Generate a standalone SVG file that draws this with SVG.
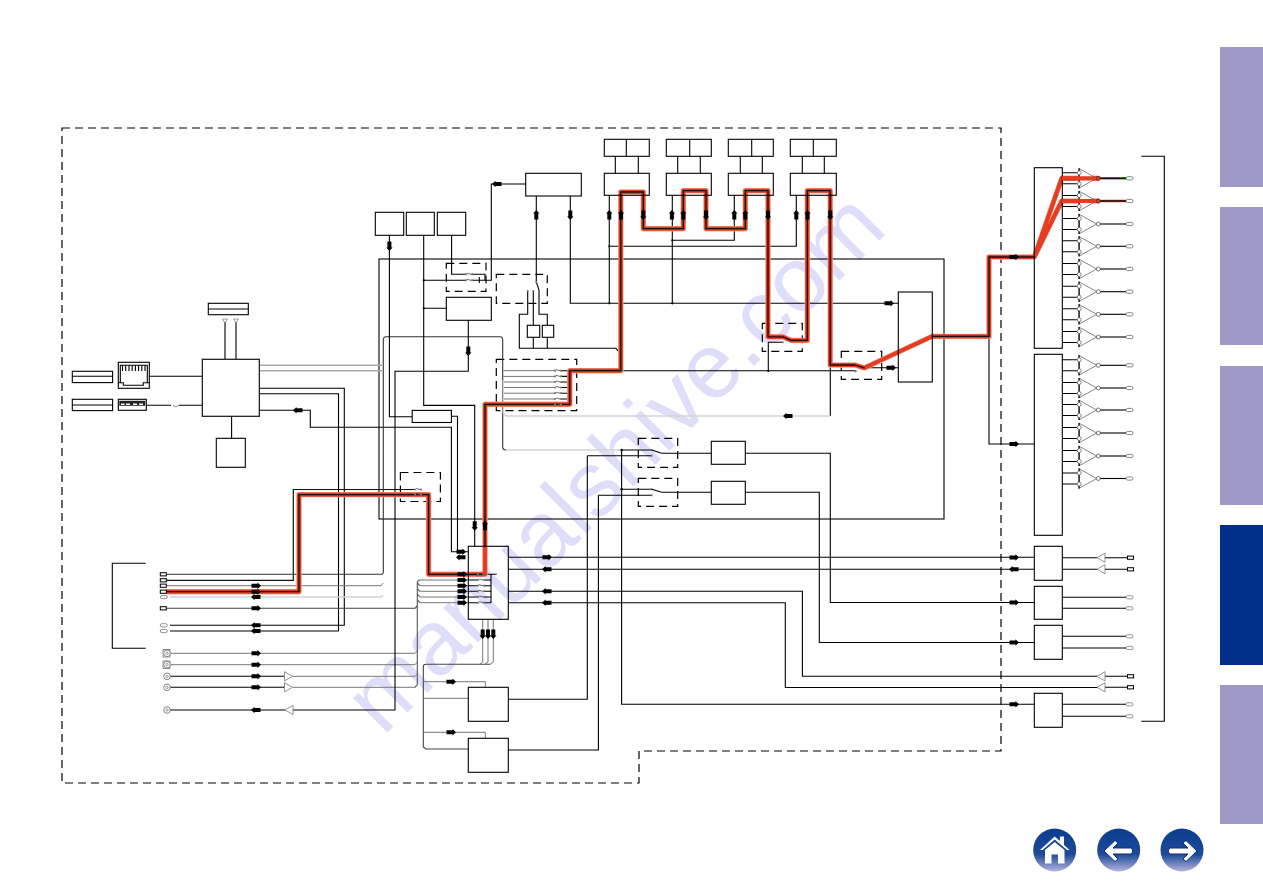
<svg xmlns="http://www.w3.org/2000/svg" width="1263" height="893" viewBox="0 0 1263 893">
<style>
text{font-family:"Liberation Sans",Arial,sans-serif}
.wm{font-size:92px;fill:#dedefb}
.k{fill:none;stroke:#000;stroke-width:1.1}
.b{fill:none;stroke:#111;stroke-width:1.2}
.g{fill:none;stroke:#777;stroke-width:1}
.p{fill:none;stroke:#d4d4d4;stroke-width:1.4}
.d{fill:none;stroke:#000;stroke-width:1.2;stroke-dasharray:8 5}
.halo{fill:none;stroke:#f4a899;stroke-width:5.4;stroke-linejoin:round}
.red{fill:none;stroke:#e43d22;stroke-width:4.2;stroke-linejoin:round}
.core{fill:none;stroke:#111;stroke-width:1.3;stroke-linejoin:round}
.thin{fill:none;stroke:#e43d22;stroke-width:2.6}
.tab{fill:#9d98c6}
.tabon{fill:#003087}
.btn{fill:url(#btn)}
.ico{fill:#fff}
</style>
<defs>
<linearGradient id="btn" x1="0" y1="0" x2="0" y2="1">
<stop offset="0" stop-color="#0b3d8f"/><stop offset=".6" stop-color="#1c4a98"/><stop offset="1" stop-color="#b4b4dc"/>
</linearGradient>
<path id="ar" d="M-4.5-2H1.5V-3.2L5 0 1.5 3.2V2H-4.5Z" fill="#000"/>
<g id="amp">
<path d="M0,-5.5H17M0,5.5H17" class="k"/>
<path d="M16.7,-10V10L34.7,0Z" fill="#fff" stroke="#666" stroke-width=".8"/>
<path d="M17.2,-10V10" class="k"/>
<circle cx="17.2" cy="-5.5" r="2" fill="#fff" stroke="#666" stroke-width=".8"/>
<circle cx="17.2" cy="5.5" r="2" fill="#fff" stroke="#666" stroke-width=".8"/>
<circle cx="36.3" cy="0" r="2" fill="#fff" stroke="#555" stroke-width=".8"/>
<path d="M38.3,0H64" class="k"/>
<rect x="64" y="-1.6" width="7" height="3.2" rx="1.6" fill="#fff" stroke="#666" stroke-width=".8"/>
</g>
<path id="ct" d="M1,-1 5,0" stroke="#444" stroke-width=".8"/>
<g id="contact"><circle r="1.1" fill="#777"/><circle cx="6" r="1.1" fill="#777"/><use href="#ct"/></g>
<rect id="cr" x="0" y="-1.6" width="6" height="3.2" fill="#fff" stroke="#000" stroke-width="1"/>
<rect id="cap" x="0" y="-1.6" width="7" height="3.2" rx="1.6" fill="#fff" stroke="#777" stroke-width=".8"/>
<g id="jack"><circle r="3.3" fill="#fff" stroke="#777" stroke-width=".9"/><circle r="1.2" fill="none" stroke="#777" stroke-width=".7"/></g>
<path id="tri-r" d="M0,-4.6V4.6L8,0Z" fill="#fff" stroke="#777" stroke-width=".8"/>
<path id="tri-l" d="M8,-4.6V4.6L0,0Z" fill="#fff" stroke="#777" stroke-width=".8"/>
<path id="wire" d="M166,591.7H299V494.6H428.6V574.3H485M485,546V404.3H569.8V370.7H620.8V192H643.3V228.7H683.3V190.7H706V228.7H745.3V190.7H768V336.8H783L791,340.4H807.3V190.7H830.2V365H855L864.5,367.9M932,336.4H989V257H1034.3"/>
<path id="sig" d="M166,591.7H299V494.6H428.6V574.3H485V404.3H569.8V370.7H620.8V192H643.3V228.7H683.3V190.7H706V228.7H745.3V190.7H768V336.8H783L791,340.4H807.3V190.7H830.2V365H855L864.5,367.9 932,336.4H989V257H1034.3L1061.7,178.3H1098M1034.3,257 1061.7,201H1098"/>
</defs>

<rect width="1263" height="893" fill="#fff"/>
<text class="wm" transform="translate(383,737) rotate(-45)">manualshive.com</text>

<g id="side-tabs">
<rect class="tab" x="1220" y="47" width="43" height="140"/>
<rect class="tab" x="1220" y="207" width="43" height="138"/>
<rect class="tab" x="1220" y="366" width="43" height="139"/>
<rect class="tabon" x="1220" y="525" width="43" height="140"/>
<rect class="tab" x="1220" y="685" width="43" height="139"/>
</g>

<g id="nav-buttons">
<g id="nav-home"><circle class="btn" cx="1054.7" cy="850" r="21.5"/>
<path class="ico" d="M1040,850 1054.7,836.5 1060,841V836.5H1064V845L1069.5,850 1067,850 1054.7,839.5 1042.5,850Z"/>
<path class="ico" d="M1045,850 1054.7,842 1064.5,850V863.5H1058V854.5H1051.5V863.5H1045Z"/></g>
<g id="nav-back"><circle class="btn" cx="1118.7" cy="850" r="21.5"/>
<path class="ico" stroke="#0b2f80" stroke-width="1" d="M1104,851 1115,840.5 1118,843 1113,848H1131.5Q1134,851 1131.5,854H1113L1118,859 1115,861.5Z"/></g>
<g id="nav-next"><circle class="btn" cx="1182" cy="850" r="21.5"/>
<path class="ico" stroke="#0b2f80" stroke-width="1" d="M1197,851 1186,840.5 1183,843 1188,848H1169.5Q1167,851 1169.5,854H1188L1183,859 1186,861.5Z"/></g>
</g>

<g id="boundaries">
<path class="d" d="M62,128H1001V751H639V783H62Z"/>
<rect class="k" x="379" y="259" width="565" height="260"/>
<rect class="d" x="446.3" y="263.3" width="39.7" height="28"/>
<rect class="d" x="496.3" y="274.3" width="51" height="29"/>
<rect class="d" x="496.3" y="359.3" width="80.4" height="51.4"/>
<rect class="d" x="762.3" y="323.3" width="40" height="28"/>
<rect class="d" x="841.3" y="351.3" width="40.4" height="28"/>
<rect class="d" x="638.3" y="438.3" width="39.4" height="29"/>
<rect class="d" x="638.3" y="478.3" width="39.4" height="28"/>
<rect class="d" x="400.4" y="472.5" width="40" height="29"/>
<path class="k" d="M145.7,563.3H112.3V648.3H145.7"/>
<path class="k" d="M1141.3,156.3H1164.3V721.3H1141.3"/>
</g>

<g id="connectors">
<!-- network block -->
<path class="k" d="M225,321V359M236,321V359M149.3,376.3H202.3M146.3,405.3H171M179,405.3H202.3M231.6,416.3V438.3"/>
<path d="M173,405C175,407 177,407 179,405" class="g"/>
<path class="p" d="M259.3,365.3H382M259.3,370.7H382" style="stroke:#aaa"/>
<path class="k" d="M259.3,388.3H344.3V625.3H170M259.3,393.7H338.5V631H170"/>
<path class="k" d="M259.3,410.3H310.3V427.3H451.4V551.8H468.3"/>
<!-- rear panel inputs -->
<path class="b" d="M166,580.3H293.3V489.5H415"/>
<path class="k" style="stroke:#333" d="M166,574.3H382Q383.3,574 383.3,572V340Q383.3,336.7 386,336.7H500Q502.7,336.7 502.7,340V447Q502.7,450 506,450"/>
<path class="g" d="M166,585.7H381L383.3,583"/>
<path class="p" d="M170,597H381L383.3,595M506,450H621"/>
<path class="k" style="stroke:#444" d="M166,608.3H415L417.3,606"/>
<path class="k" style="stroke:#555" d="M420,580Q417.3,580 417.3,583V684.5L415,687.3M417.3,583L420,585.7M417.3,589L420,591.3M417.3,594L420,597M417.3,600L420,602.7"/>
<path class="g" d="M170,653.3H415L417.3,651M170,664.7H415L417.3,662"/>
<path class="k" d="M170,676.3H285M170,687.3H285"/>
<path class="g" d="M293,676.3H415L417.3,674M293,687.3H415"/>
<path class="k" d="M170,710H285M293,710H395V371.3H468.3V320.3"/>
<!-- front-end selector rows -->
<path class="g" d="M420,580H468M420,585.7H468M420,591.3H468M420,597H468M420,602.7H468"/>
<path class="k" d="M468,580H478M468,585.7H478M468,591.3H478M468,597H478M468,602.7H478M484,574.3H496.7M484,580H491M484,585.7H491M484,591.3H491M484,597H491M484,602.7H491M491,574.3V602.7"/>
<!-- upper switch and selector wiring -->
<path class="k" d="M389.4,235.3V416.8H412.2M451.4,416.3H457.5V551.8M423.7,235.3V405.4H474.7V546.3"/>
<path class="k" d="M423.7,280.3H466M472,280.3H491.3V184H525.7M423.7,308.3H446.3"/>
<path class="k" d="M451.6,235.3V274.3H466M472,274.3H485V280.3M479.3,277V283"/>
<path class="k" d="M536.3,196V282L539,290V314.3H547.3V325.3M527.7,291V314.3H519.3V348.3H615.7L621,354M533.3,291V325.3M533.3,337.3V348.3M547.3,337.3V348.3"/>
<path class="k" d="M570.3,196V303.3H898.3M609.3,195.3V303.3M609.3,246.3H796.3V195.3M672.3,195.3V303.3M672.3,240.3H734.3V195.3"/>
<path class="k" d="M615.3,156.3V173.3M638.3,156.3V173.3M677.7,156.3V173.3M700.3,156.3V173.3M740.3,156.3V173.3M762.3,156.3V173.3M802.3,156.3V173.3M824.3,156.3V173.3"/>
<!-- tape of inputs into the selector -->
<path class="g" d="M503.3,370.7H555M503.3,376.4H555M503.3,382H555M503.3,387.5H555M503.3,393.2H555M503.3,399H555"/>
<path class="k" d="M561,370.7H569.8M561,376.4H569.8M561,382H569.8M561,387.5H569.8M561,393.2H569.8M561,399H569.8M569.8,370.7V404.3"/>
<path class="k" d="M620.8,370.7H855.7M768.3,371V342.3H782.7M864.5,367.7H898.3M830.3,365V416"/>
<path class="p" d="M830.3,416H506L503.3,413V380"/>
<!-- output switches -->
<path class="k" d="M621.6,450H651.7M621.6,450V704.3H1034.3M621.6,489.3H651.7M587.3,455.7H651.7M598.4,495.3H651.7"/>
<path class="k" d="M661.7,453.3H711.3M661.7,492.3H711.3M745.3,453.3H830.3V602.5H1034.3M745.3,492.3H819.3V642.5H1034.3"/>
<path class="k" d="M508.3,699.3H587.3V455.7M508.3,750H598.4V495.3"/>
<path class="k" d="M508.3,557.3H1034.3M508.3,569.3H1034.3M508.3,591.3H802.4V676.3H1097M508.3,602.7H785.3V687.5H1097"/>
<!-- selector return bus -->
<path class="g" d="M482.7,619.3V662L480,664.3M488,619.3V662L485,664.3M493.3,619.3V662L490,664.3"/>
<path class="k" style="stroke:#444" d="M490,664.3H426Q423.3,664.3 423.3,667V747L426,749H468.3"/>
<path class="g" d="M423.3,681.7H485.3V687.3M423.3,698.3H468.3M423.3,732.3H485.3V738.3"/>
<!-- main output -->
<path class="k" d="M989,337V444H1034.3"/>
<path class="k" d="M1062.3,557.7H1097M1105,557.7H1127M1062.3,569.3H1097M1105,569.3H1127M1062.3,597.3H1127M1062.3,608.3H1127M1062.3,636.3H1127M1062.3,648H1127M1105,676.3H1127M1105,687.3H1127M1062.3,704.3H1127M1062.3,716.3H1127"/>

<!-- highlighted signal route -->
<use href="#sig" class="halo"/>
<use href="#sig" class="red"/>
<use href="#wire" class="core"/>

<!-- flow arrows -->
<g id="flow-arrows">
<use href="#ar" transform="translate(298,410.3) rotate(180)"/>
<use href="#ar" x="256" y="585.7"/><use href="#ar" x="256" y="591.7"/>
<use href="#ar" transform="translate(256,597) rotate(180)"/>
<use href="#ar" x="256" y="608.3"/>
<use href="#ar" transform="translate(256,625.3) rotate(180)"/>
<use href="#ar" transform="translate(256,631) rotate(180)"/>
<use href="#ar" x="256" y="653.3"/><use href="#ar" x="256" y="664.7"/><use href="#ar" x="256" y="676.3"/><use href="#ar" x="256" y="687.3"/>
<use href="#ar" transform="translate(256,710) rotate(180)"/>
<use href="#ar" x="461" y="551.8"/>
<use href="#ar" transform="translate(461,557.3) rotate(180)"/>
<use href="#ar" x="462" y="574.3"/><use href="#ar" x="462" y="580"/><use href="#ar" x="462" y="585.7"/><use href="#ar" x="462" y="591.3"/><use href="#ar" x="462" y="597"/><use href="#ar" x="462" y="602.7"/>
<use href="#ar" x="547" y="557.3"/>
<use href="#ar" transform="translate(547,569.3) rotate(180)"/>
<use href="#ar" transform="translate(547,591.3) rotate(180)"/>
<use href="#ar" transform="translate(547,602.7) rotate(180)"/>
<use href="#ar" transform="translate(482.7,634) rotate(90)"/><use href="#ar" transform="translate(488,634) rotate(90)"/><use href="#ar" transform="translate(493.3,634) rotate(90)"/>
<use href="#ar" x="451" y="681.7"/><use href="#ar" x="451" y="732.3"/>
<use href="#ar" transform="translate(474.7,525.7) rotate(90)"/>
<use href="#ar" transform="translate(485,525.7) rotate(-90)"/>
<use href="#ar" transform="translate(389.4,246) rotate(90)"/>
<use href="#ar" transform="translate(468.3,351) rotate(90)"/>
<use href="#ar" transform="translate(497,184) rotate(180)"/>
<use href="#ar" transform="translate(536.3,215) rotate(-90)"/>
<use href="#ar" transform="translate(570.3,215) rotate(90)"/>
<use href="#ar" transform="translate(609.3,215) rotate(-90)"/><use href="#ar" transform="translate(621,215) rotate(-90)"/>
<use href="#ar" transform="translate(643.3,215) rotate(90)"/>
<use href="#ar" transform="translate(671.9,215) rotate(-90)"/><use href="#ar" transform="translate(683.3,215) rotate(-90)"/>
<use href="#ar" transform="translate(706,215) rotate(90)"/>
<use href="#ar" transform="translate(734.3,215) rotate(-90)"/><use href="#ar" transform="translate(745.3,215) rotate(-90)"/>
<use href="#ar" transform="translate(768,215) rotate(90)"/>
<use href="#ar" transform="translate(796.3,215) rotate(-90)"/><use href="#ar" transform="translate(807.5,215) rotate(-90)"/>
<use href="#ar" transform="translate(830.3,215) rotate(90)"/>
<use href="#ar" x="889" y="303.3"/><use href="#ar" x="891" y="367.7"/>
<use href="#ar" transform="translate(788,416) rotate(180)"/>
<use href="#ar" x="1014" y="257"/><use href="#ar" x="1014" y="444"/><use href="#ar" x="1014" y="557.5"/>
<use href="#ar" transform="translate(1014,569.3) rotate(180)"/>
<use href="#ar" x="1014" y="602.5"/><use href="#ar" x="1014" y="642.5"/><use href="#ar" x="1014" y="704.3"/>
</g>
</g>

<g id="contacts">
<use href="#contact" x="555" y="370.7"/><use href="#contact" x="555" y="376.4"/><use href="#contact" x="555" y="382"/><use href="#contact" x="555" y="387.5"/><use href="#contact" x="555" y="393.2"/><use href="#contact" x="555" y="399"/><use href="#contact" x="555" y="404.6"/>
<use href="#contact" x="466" y="274.3"/><use href="#contact" x="466" y="280.3"/>
<use href="#contact" x="415" y="489.5"/><use href="#contact" x="415" y="494.6"/>
<use href="#contact" x="478" y="574.3"/><use href="#contact" x="478" y="580"/><use href="#contact" x="478" y="585.7"/><use href="#contact" x="478" y="591.3"/><use href="#contact" x="478" y="597"/><use href="#contact" x="478" y="602.7"/>
<circle cx="527.7" cy="291" r="1.1" fill="#777"/><circle cx="533.3" cy="291" r="1.1" fill="#777"/><circle cx="536.3" cy="282" r="1.1" fill="#777"/>
<circle cx="651.7" cy="450" r="1.1" fill="#777"/><circle cx="651.7" cy="455.7" r="1.1" fill="#777"/><path class="k" d="M651.7,450 661.7,453.3"/>
<circle cx="651.7" cy="489.3" r="1.1" fill="#777"/><circle cx="651.7" cy="495.3" r="1.1" fill="#777"/><path class="k" d="M651.7,489.3 661.7,492.3"/>
<circle cx="782.7" cy="342.3" r="1.1" fill="#777"/><circle cx="855.7" cy="371.3" r="1.1" fill="#777"/>
<circle cx="423.7" cy="280.3" r="1.1" fill="#000"/><circle cx="423.7" cy="308.3" r="1.1" fill="#000"/><circle cx="609.3" cy="246.3" r="1.1" fill="#000"/><circle cx="672.3" cy="240.3" r="1.1" fill="#000"/><circle cx="609.3" cy="303.3" r="1.1" fill="#000"/><circle cx="672.3" cy="303.3" r="1.1" fill="#000"/><circle cx="621.6" cy="450" r="1.2" fill="#000"/><circle cx="621.6" cy="489.3" r="1.2" fill="#000"/><circle cx="768.3" cy="371" r="1.1" fill="#000"/>
</g>

<g id="node-antenna"><rect class="k" x="208.3" y="303.3" width="40" height="11.4"/><path class="k" d="M208.3,309H248.3"/><path d="M222.5,319H227.5L225,323ZM233.5,319H238.5L236,323Z" fill="#fff" stroke="#777" stroke-width=".7"/></g>
<g id="node-label-lan"><rect class="k" x="72.3" y="371.3" width="40.3" height="11.3"/><path class="k" d="M72.3,376.3H112.6"/></g>
<g id="node-label-usb"><rect class="k" x="72.3" y="399.3" width="40.3" height="11.3"/><path class="k" d="M72.3,405H112.6"/></g>
<g id="node-rj45"><rect class="k" x="118.3" y="362.3" width="31" height="26"/>
<path class="k" d="M120.3,382.7V365.3H147.3V382.7H143.3V385.3H123.3V382.7ZM118.3,382.7H120.3M147.3,382.7H149.3"/>
<path class="k" d="M122.5,365.3V371M125.7,365.3V371M129,365.3V371M132.2,365.3V371M135.4,365.3V371M138.6,365.3V371M141.8,365.3V371M145,365.3V371"/></g>
<g id="node-usb"><rect class="k" x="118.3" y="399.3" width="28" height="11"/><rect x="119.3" y="400.8" width="26" height="5" fill="#222"/><path d="M121,403.6h3.5v1.4h-3.5zM126,403.6h4v1.4h-4zM133,403.6h4v1.4h-4zM139,403.6h4v1.4h-4z" fill="#fff"/></g>
<g id="node-network"><rect class="b" x="202.3" y="359.3" width="57" height="57"/></g>
<g id="node-flash"><rect class="k" x="216.3" y="438.3" width="29" height="29"/></g>
<g id="node-r1"><rect class="k" x="375.3" y="212.3" width="28.4" height="23"/></g>
<g id="node-r2"><rect class="k" x="406.3" y="212.3" width="28" height="23"/></g>
<g id="node-r3"><rect class="k" x="437.3" y="212.3" width="28.4" height="23"/></g>
<g id="node-logic"><rect class="k" x="446.3" y="297.3" width="45" height="23"/></g>
<g id="node-sub-a"><rect class="k" x="527.3" y="325.3" width="12.4" height="12"/></g>
<g id="node-sub-b"><rect class="k" x="542.3" y="325.3" width="11.4" height="12"/></g>
<g id="node-pll"><rect class="k" x="412.2" y="410.4" width="39.2" height="12.1"/></g>
<g id="node-clock"><rect class="k" x="525.7" y="173.3" width="55.6" height="22.7"/></g>
<g id="node-dsp-1"><rect class="k" x="604.3" y="139.3" width="45" height="17"/><path class="k" d="M626.3,139.3V156.3"/><rect class="k" x="604.3" y="173.3" width="45" height="22"/></g>
<g id="node-dsp-2"><rect class="k" x="666.3" y="139.3" width="45" height="17"/><path class="k" d="M689.7,139.3V156.3"/><rect class="k" x="666.3" y="173.3" width="45" height="22"/></g>
<g id="node-dsp-3"><rect class="k" x="728.3" y="139.3" width="45" height="17"/><path class="k" d="M751.7,139.3V156.3"/><rect class="k" x="728.3" y="173.3" width="45" height="22"/></g>
<g id="node-dsp-4"><rect class="k" x="790.3" y="139.3" width="46" height="17"/><path class="k" d="M813.3,139.3V156.3"/><rect class="k" x="790.3" y="173.3" width="46" height="22"/></g>
<g id="node-dac-out"><rect class="k" x="898.3" y="292" width="34" height="90"/></g>
<g id="node-select"><rect class="k" x="468.3" y="546.3" width="40" height="73"/></g>
<g id="node-adc-1"><rect class="k" x="468.3" y="687.3" width="40" height="34"/></g>
<g id="node-adc-2"><rect class="k" x="468.3" y="738.3" width="40" height="34"/></g>
<g id="node-mux-1"><rect class="k" x="711.3" y="441.3" width="34" height="23"/></g>
<g id="node-mux-2"><rect class="k" x="711.3" y="481.3" width="34" height="23"/></g>
<g id="node-amp-block-1"><rect class="k" x="1034.3" y="167.7" width="28" height="180.6"/></g>
<g id="node-amp-block-2"><rect class="k" x="1034.3" y="354.3" width="28" height="181"/></g>
<g id="node-io-1"><rect class="k" x="1034.3" y="546.3" width="28" height="34"/></g>
<g id="node-io-2"><rect class="k" x="1034.3" y="586.3" width="28" height="33"/></g>
<g id="node-io-3"><rect class="k" x="1034.3" y="625.3" width="28" height="34"/></g>
<g id="node-io-4"><rect class="k" x="1034.3" y="693.3" width="28" height="34"/></g>

<g id="amplifiers" transform="translate(1062,0)">
<use href="#amp" y="178.3"/><use href="#amp" y="201"/><use href="#amp" y="224"/><use href="#amp" y="246.3"/><use href="#amp" y="269"/><use href="#amp" y="291.7"/><use href="#amp" y="314.3"/><use href="#amp" y="337"/>
<use href="#amp" y="365.3"/><use href="#amp" y="388"/><use href="#amp" y="410"/><use href="#amp" y="433"/><use href="#amp" y="456"/><use href="#amp" y="478.5"/>
</g>
<path class="red" d="M1062,178.3H1098M1062,201H1098"/>
<path class="thin" d="M1100,178.3H1126M1100,201H1126"/>
<path class="core" d="M1100,178.3H1126M1100,201H1126"/>
<circle cx="1098.3" cy="178.3" r="2" fill="#e43d22" stroke="#333" stroke-width=".7"/>
<circle cx="1098.3" cy="201" r="2" fill="#e43d22" stroke="#333" stroke-width=".7"/>

<g id="terminals">
<use href="#cr" x="160.3" y="574.3"/><use href="#cr" x="160.3" y="580.3"/><use href="#cr" x="160.3" y="585.7"/><use href="#cr" x="160.3" y="591.7"/>
<use href="#cap" x="160.3" y="597"/><use href="#cr" x="160.3" y="608.3"/><use href="#cap" x="160.3" y="625.3"/><use href="#cap" x="160.3" y="631"/>
<rect x="163" y="649.5" width="7" height="7.5" fill="#fff" stroke="#777" stroke-width=".8"/><use href="#jack" x="167" y="653.3"/>
<rect x="163" y="661" width="7" height="7.5" fill="#fff" stroke="#777" stroke-width=".8"/><use href="#jack" x="167" y="664.7"/>
<use href="#jack" x="167" y="676.3"/><use href="#jack" x="167" y="687.3"/><use href="#jack" x="167" y="710"/>
<use href="#tri-r" x="284.5" y="676.3"/><use href="#tri-r" x="284.5" y="687.3"/><use href="#tri-l" x="285" y="710"/>
<use href="#tri-l" x="1097" y="557.7"/><use href="#tri-l" x="1097" y="569.3"/><use href="#tri-l" x="1097" y="676.3"/><use href="#tri-l" x="1097" y="687.3"/>
<use href="#cr" x="1127.5" y="557.7"/><use href="#cr" x="1127.5" y="569.3"/><use href="#cr" x="1127.5" y="676.3"/><use href="#cr" x="1127.5" y="687.3"/>
<use href="#cap" x="1126" y="597.3"/><use href="#cap" x="1126" y="608.3"/><use href="#cap" x="1126" y="636.3"/><use href="#cap" x="1126" y="648"/><use href="#cap" x="1126" y="704.3"/><use href="#cap" x="1126" y="716.3"/>
</g>
</svg>
